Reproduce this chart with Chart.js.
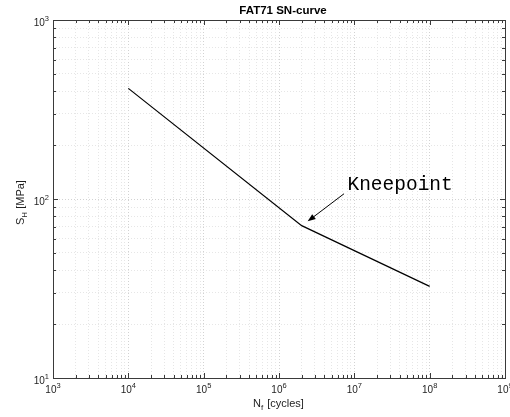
<!DOCTYPE html>
<html>
<head>
<meta charset="utf-8">
<title>FAT71 SN-curve</title>
<script src="https://cdn.jsdelivr.net/npm/chart.js@4/dist/chart.umd.min.js"></script>
<style>
  html, body { margin: 0; padding: 0; background: #fff; }
</style>
</head>
<body>
<canvas id="snChart" width="510" height="417"></canvas>
<script>
// SN-curve data: cycles to failure vs. stress range
const cycles = [1e4, 2e6, 1e8];
const stress = [415, 71, 32.5];

// axis decades (powers of ten) used for ticks and labels
const xDecades = [3, 4, 5, 6, 7, 8, 9];
const yDecades = [1, 2, 3];

// knee annotation, positions in data units
const kneeLabel = "Kneepoint";
const kneeTextAt = { x: 8.1e6, y: 120 };
const kneeArrowFrom = { x: 7.3e6, y: 107 };
const kneeArrowTo = { x: 2.4e6, y: 75 };

const AXIS_COLOR = "#3a3a3a";
const FONT = "'Liberation Sans', Arial, Helvetica, sans-serif";

function decadeTicks(decades) {
  const out = [];
  for (let i = 0; i < decades.length - 1; i++) {
    for (let m = 1; m <= 9; m++) out.push(m * Math.pow(10, decades[i]));
  }
  out.push(Math.pow(10, decades[decades.length - 1]));
  return out;
}

function isMajor(v) {
  const l = Math.log10(v);
  return Math.abs(l - Math.round(l)) < 1e-9;
}

function gridColor(ctx) {
  if (!ctx.tick) return "#e6e6e6";
  return isMajor(ctx.tick.value) ? "#d2d2d2" : "#e6e6e6";
}

// "10" with a raised exponent
function drawPower(ctx, exp, x, y, align) {
  ctx.font = "10px " + FONT;
  const wb = ctx.measureText("10").width;
  ctx.font = "7.5px " + FONT;
  const we = ctx.measureText(String(exp)).width;
  const total = wb + we;
  let left = x;
  if (align === "center") left = x - total / 2;
  if (align === "right") left = x - total;
  ctx.textAlign = "left";
  ctx.textBaseline = "alphabetic";
  ctx.font = "10px " + FONT;
  ctx.fillText("10", left, y);
  ctx.font = "7.5px " + FONT;
  ctx.fillText(String(exp), left + wb, y - 5);
}

const frame = {
  id: "frame",
  afterDraw(chart) {
    const ctx = chart.ctx;
    const a = chart.chartArea;
    const xs = chart.scales.x;
    const ys = chart.scales.y;
    ctx.save();

    // box
    ctx.strokeStyle = AXIS_COLOR;
    ctx.lineWidth = 1;
    ctx.strokeRect(Math.round(a.left) + 0.5, Math.round(a.top) + 0.5,
      Math.round(a.right - a.left), Math.round(a.bottom - a.top));

    // inward tick marks on all four sides
    ctx.beginPath();
    decadeTicks(xDecades).forEach(v => {
      const px = Math.round(xs.getPixelForValue(v)) + 0.5;
      const len = isMajor(v) ? 5 : 3;
      ctx.moveTo(px, a.bottom); ctx.lineTo(px, a.bottom - len);
      ctx.moveTo(px, a.top); ctx.lineTo(px, a.top + len);
    });
    decadeTicks(yDecades).forEach(v => {
      const py = Math.round(ys.getPixelForValue(v)) + 0.5;
      const len = isMajor(v) ? 5 : 3;
      ctx.moveTo(a.left, py); ctx.lineTo(a.left + len, py);
      ctx.moveTo(a.right, py); ctx.lineTo(a.right - len, py);
    });
    ctx.stroke();

    // tick labels
    ctx.fillStyle = "#1e1e1e";
    xDecades.forEach(d => {
      drawPower(ctx, d, xs.getPixelForValue(Math.pow(10, d)), a.bottom + 15, "center");
    });
    yDecades.forEach(d => {
      drawPower(ctx, d, a.left - 4, ys.getPixelForValue(Math.pow(10, d)) + 6, "right");
    });

    // title
    ctx.fillStyle = "#000";
    ctx.font = "bold 11.5px " + FONT;
    ctx.textAlign = "center";
    ctx.fillText("FAT71 SN-curve", 283, 14);

    // x axis label: N_f [cycles]
    ctx.fillStyle = "#1e1e1e";
    ctx.font = "11px " + FONT;
    ctx.textAlign = "left";
    const xl = 253, xb = 407;
    ctx.fillText("N", xl, xb);
    let w = ctx.measureText("N").width;
    ctx.font = "8px " + FONT;
    ctx.fillText("f", xl + w, xb + 3);
    w += ctx.measureText("f").width + 1;
    ctx.font = "11px " + FONT;
    ctx.fillText(" [cycles]", xl + w, xb);

    // y axis label: S_H [MPa], rotated
    ctx.save();
    ctx.translate(24, 225);
    ctx.rotate(-Math.PI / 2);
    ctx.font = "11px " + FONT;
    ctx.fillText("S", 0, 0);
    let wy = ctx.measureText("S").width;
    ctx.font = "8px " + FONT;
    ctx.fillText("H", wy, 3);
    wy += ctx.measureText("H").width;
    ctx.font = "11px " + FONT;
    ctx.fillText(" [MPa]", wy, 0);
    ctx.restore();

    // knee annotation text and arrow
    ctx.fillStyle = "#000";
    ctx.font = "19.5px 'Liberation Mono', 'Courier New', monospace";
    ctx.textAlign = "left";
    ctx.textBaseline = "middle";
    ctx.fillText(kneeLabel, xs.getPixelForValue(kneeTextAt.x), ys.getPixelForValue(kneeTextAt.y));

    const x0 = xs.getPixelForValue(kneeArrowFrom.x), y0 = ys.getPixelForValue(kneeArrowFrom.y);
    const x1 = xs.getPixelForValue(kneeArrowTo.x), y1 = ys.getPixelForValue(kneeArrowTo.y);
    const ang = Math.atan2(y1 - y0, x1 - x0);
    const headLen = 8, headW = 3;
    ctx.strokeStyle = "#000";
    ctx.lineWidth = 1;
    ctx.beginPath();
    ctx.moveTo(x0, y0);
    ctx.lineTo(x1 - headLen * Math.cos(ang), y1 - headLen * Math.sin(ang));
    ctx.stroke();
    ctx.beginPath();
    ctx.moveTo(x1, y1);
    ctx.lineTo(x1 - headLen * Math.cos(ang) + headW * Math.sin(ang),
               y1 - headLen * Math.sin(ang) - headW * Math.cos(ang));
    ctx.lineTo(x1 - headLen * Math.cos(ang) - headW * Math.sin(ang),
               y1 - headLen * Math.sin(ang) + headW * Math.cos(ang));
    ctx.closePath();
    ctx.fill();

    ctx.restore();
  }
};

const ctx = document.getElementById("snChart").getContext("2d");

window.snChart = new Chart(ctx, {
  type: "scatter",
  data: {
    datasets: [{
      label: "FAT71",
      data: cycles.map((c, i) => ({ x: c, y: stress[i] })),
      showLine: true,
      borderColor: "#000",
      borderWidth: 1.2,
      pointRadius: 0,
      fill: false
    }]
  },
  options: {
    responsive: false,
    devicePixelRatio: 1,
    animation: false,
    layout: { padding: { left: 53, right: 5, top: 20, bottom: 39 } },
    plugins: { legend: { display: false }, tooltip: { enabled: false } },
    scales: {
      x: {
        type: "logarithmic",
        min: 1e3,
        max: 1e9,
        afterBuildTicks: scale => { scale.ticks = decadeTicks(xDecades).map(v => ({ value: v })); },
        ticks: { display: false },
        grid: { drawTicks: false, color: gridColor, lineWidth: 1 },
        border: { display: false, dash: [1, 2] }
      },
      y: {
        type: "logarithmic",
        min: 10,
        max: 1000,
        afterBuildTicks: scale => { scale.ticks = decadeTicks(yDecades).map(v => ({ value: v })); },
        ticks: { display: false },
        grid: { drawTicks: false, color: gridColor, lineWidth: 1 },
        border: { display: false, dash: [1, 2] }
      }
    }
  },
  plugins: [frame]
});
</script>
</body>
</html>
